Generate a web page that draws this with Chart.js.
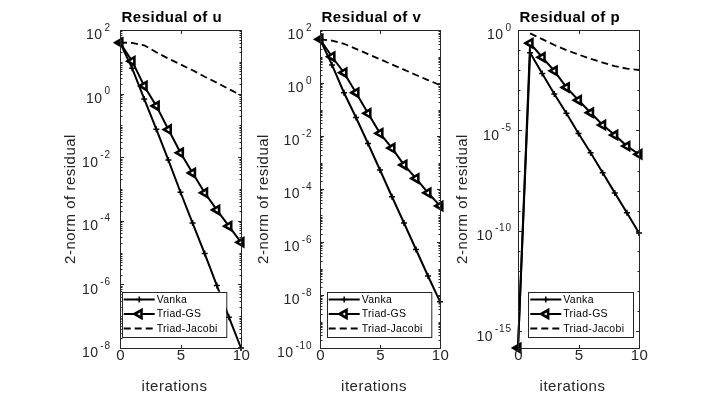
<!DOCTYPE html>
<html>
<head>
<meta charset="utf-8">
<script src="https://cdn.jsdelivr.net/npm/chart.js"></script>
<style>
  body { margin: 0; background: #fff; }
  #wrap { position: relative; width: 708px; height: 393px; }
  #wrap canvas { position: absolute; left: 0; top: 0; }
</style>
</head>
<body>
<div id="wrap">
  <canvas id="chartU" width="708" height="393"></canvas>
  <canvas id="chartV" width="708" height="393"></canvas>
  <canvas id="chartP" width="708" height="393"></canvas>
</div>
<script>
// values
const iterations = [0, 1, 2, 3, 4, 5, 6, 7, 8, 9, 10];

const uVanka = [40, 6.3, 0.68, 0.076, 8.1e-3, 7.9e-4, 8.5e-5, 9.3e-6, 9.3e-7, 9.3e-8, 1.0e-8];
const uTriadGS = [40, 10.5, 1.74, 0.41, 0.074, 0.0138, 3.2e-3, 7.6e-4, 2.2e-4, 6.8e-5, 2.1e-5];
const uTriadJacobi = [40, 39.5, 33, 20, 12.6, 8.3, 5.4, 3.4, 2.2, 1.38, 0.89];

const vVanka = [44.7, 4.8, 0.43, 0.050, 5.2e-3, 5.2e-4, 5.1e-5, 5.2e-6, 5.2e-7, 5.2e-8, 5.6e-9];
const vTriadGS = [44.7, 9.8, 2.45, 0.43, 0.072, 0.0126, 3.5e-3, 8.1e-4, 2.5e-4, 7.2e-5, 2.3e-5];
const vTriadJacobi = [44.7, 39.8, 30.2, 19.5, 12.3, 7.9, 5.0, 3.2, 2.0, 1.29, 0.83];

const pVanka = [1.48e-16, 0.074, 6.9e-3, 6.5e-4, 7.1e-5, 7.1e-6, 7.8e-7, 7.8e-8, 7.8e-9, 7.9e-10, 7.9e-11];
const pTriadGS = [1.48e-16, 0.22, 0.044, 9.3e-3, 1.38e-3, 3.2e-4, 7.6e-5, 1.86e-5, 5.9e-6, 1.66e-6, 6.5e-7];
const pTriadJacobi = [null, 0.68, 0.35, 0.18, 0.1, 0.060, 0.037, 0.024, 0.0158, 0.012, 0.0102];

const seriesNames = ['Vanka', 'Triad-GS', 'Triad-Jacobi'];
const xTicks = [0, 5, 10];
const uTickExp = [2, 0, -2, -4, -6, -8];
const vTickExp = [2, 0, -2, -4, -6, -8, -10];
const pTickExp = [0, -5, -10, -15];
const yLabel = '2-norm of residual';
const xLabel = 'iterations';

const AXIS = '#262626';
const FONT = '"Liberation Sans", Arial, Helvetica, sans-serif';

function marker(ctx, style, x, y, r, rot, bw) {
    if (Chart.helpers && Chart.helpers.drawPoint) {
        Chart.helpers.drawPoint(ctx, { pointStyle: style, radius: r, rotation: rot, borderWidth: bw }, x, y);
    }
}

// draws the matlab-like box, ticks, labels and legend
const matlabAxes = {
    id: 'matlabAxes',
    afterDraw(chart, args, o) {
        const ctx = chart.ctx;
        const a = chart.chartArea;
        const xs = chart.scales.x;
        const ys = chart.scales.y;
        ctx.save();
        ctx.letterSpacing = '0px';
        ctx.strokeStyle = AXIS;
        ctx.fillStyle = AXIS;
        ctx.lineWidth = 1;
        ctx.setLineDash([]);

        const L = Math.round(a.left) + 0.5, R = Math.round(a.right) + 0.5;
        const T = Math.round(a.top) + 0.5, B = Math.round(a.bottom) + 0.5;
        ctx.strokeRect(L, T, R - L, B - T);

        ctx.beginPath();
        xTicks.forEach(v => {
            const px = Math.round(xs.getPixelForValue(v)) + 0.5;
            ctx.moveTo(px, B); ctx.lineTo(px, B - 3.5);
            ctx.moveTo(px, T); ctx.lineTo(px, T + 3.5);
        });
        // minor ticks
        const lo = Math.floor(Math.log10(ys.min)), hi = Math.ceil(Math.log10(ys.max));
        for (let k = lo; k <= hi; k++) {
            const mult = o.minorEachDecade ? [1] : [1, 2, 3, 4, 5, 6, 7, 8, 9];
            mult.forEach(m => {
                const v = m * Math.pow(10, k);
                if (v < ys.min || v > ys.max) return;
                if (m === 1 && o.tickExp.includes(k)) return;
                const py = Math.round(ys.getPixelForValue(v)) + 0.5;
                ctx.moveTo(L, py); ctx.lineTo(L + 2, py);
                ctx.moveTo(R, py); ctx.lineTo(R - 2, py);
            });
        }
        o.tickExp.forEach(e => {
            const py = Math.round(ys.getPixelForValue(Math.pow(10, e))) + 0.5;
            ctx.moveTo(L, py); ctx.lineTo(L + 3.5, py);
            ctx.moveTo(R, py); ctx.lineTo(R - 3.5, py);
        });
        ctx.stroke();

        // y tick labels 10^e
        ctx.fillStyle = AXIS;
        ctx.textAlign = 'right';
        ctx.textBaseline = 'alphabetic';
        o.tickExp.forEach(e => {
            const py = ys.getPixelForValue(Math.pow(10, e));
            const right = a.left - o.tickGap;
            ctx.font = '10px ' + FONT;
            ctx.letterSpacing = '0.8px';
            const es = String(e);
            ctx.fillText(es, right + 0.8, py + 0.5);
            const ew = ctx.measureText(es).width;
            ctx.font = '14px ' + FONT;
            ctx.letterSpacing = '0.5px';
            ctx.fillText('10', right - ew - 1, py + 9.3);
        });

        // x tick labels
        ctx.font = '15px ' + FONT;
        ctx.letterSpacing = '0.3px';
        ctx.textAlign = 'center';
        xTicks.forEach(v => {
            ctx.fillText(String(v), xs.getPixelForValue(v) + 0.5, 359.8);
        });
        ctx.letterSpacing = '0.5px';
        ctx.fillText(xLabel, (a.left + a.right) / 2 - 6, 390.5);

        // y label
        ctx.save();
        ctx.translate(o.yLabelX, 199);
        ctx.rotate(-Math.PI / 2);
        ctx.fillText(yLabel, 0, 0);
        ctx.restore();

        // title
        ctx.fillStyle = '#000';
        ctx.font = 'bold 15px ' + FONT;
        ctx.letterSpacing = '0.5px';
        ctx.textAlign = 'left';
        ctx.fillText(o.title, a.left + 1.5, 21.8);

        // legend
        const lb = o.legend;
        ctx.fillStyle = '#fff';
        ctx.fillRect(lb.x, lb.y, lb.w, lb.h);
        ctx.strokeStyle = AXIS;
        ctx.lineWidth = 1;
        ctx.strokeRect(Math.round(lb.x) + 0.5, Math.round(lb.y) + 0.5, lb.w, lb.h);
        const rows = [7.5, 22, 36.5];
        chart.data.datasets.forEach((ds, i) => {
            const y = Math.round(lb.y) + rows[i];
            const x0 = lb.x + 2, x1 = lb.x + 33;
            ctx.strokeStyle = '#000';
            ctx.lineWidth = ds.borderWidth;
            ctx.setLineDash(ds.borderDash || []);
            ctx.beginPath();
            ctx.moveTo(x0, y); ctx.lineTo(x1, y);
            ctx.stroke();
            ctx.setLineDash([]);
            if (ds.pointRadius > 0) {
                ctx.fillStyle = ds.pointBackgroundColor;
                ctx.lineWidth = ds.pointBorderWidth;
                marker(ctx, ds.pointStyle, (x0 + x1) / 2, y, ds.pointRadius, ds.pointRotation, ds.pointBorderWidth);
            }
            ctx.fillStyle = '#000';
            ctx.font = '10.5px ' + FONT;
            ctx.letterSpacing = '0.3px';
            ctx.textAlign = 'left';
            ctx.textBaseline = 'middle';
            ctx.fillText(ds.label, lb.x + 35, y + 0.5);
        });
        ctx.restore();
    }
};

function makePanel(id, vanka, gs, jacobi, cfg) {
    const pts = arr => iterations.map((x, i) => ({ x: x, y: arr[i] }));
    return new Chart(document.getElementById(id), {
        type: 'line',
        data: {
            datasets: [{
                label: seriesNames[0],
                data: pts(vanka),
                borderColor: '#000',
                borderWidth: 2,
                pointStyle: 'cross',
                pointRadius: 3,
                pointBorderWidth: 1.5,
                pointBorderColor: '#000',
                pointBackgroundColor: '#000',
                pointRotation: 0,
                clip: false
            }, {
                label: seriesNames[1],
                data: pts(gs),
                borderColor: '#000',
                borderWidth: 2,
                pointStyle: 'triangle',
                pointRotation: -90,
                pointRadius: 4.6,
                pointBorderWidth: 2.6,
                pointBorderColor: '#000',
                pointBackgroundColor: '#fff',
                clip: false
            }, {
                label: seriesNames[2],
                data: pts(jacobi),
                borderColor: '#000',
                borderWidth: 1.8,
                borderDash: [7, 4],
                pointRadius: 0,
                clip: false
            }]
        },
        options: {
            responsive: false,
            animation: false,
            layout: {
                padding: { left: cfg.left, right: 708 - cfg.right, top: 30, bottom: 393 - 348 }
            },
            plugins: {
                legend: { display: false },
                tooltip: { enabled: false },
                matlabAxes: cfg
            },
            scales: {
                x: { type: 'linear', min: 0, max: 10, display: false },
                y: { type: 'logarithmic', min: cfg.yMin, max: cfg.yMax, bounds: 'data', display: false }
            }
        },
        plugins: [matlabAxes]
    });
}

makePanel('chartU', uVanka, uTriadGS, uTriadJacobi, {
    title: 'Residual of u', left: 120, right: 241, yMin: 1e-8, yMax: 1e2,
    tickExp: uTickExp, tickGap: 10, yLabelX: 75,
    legend: { x: 121.7, y: 291.7, w: 104.3, h: 45 }
});
makePanel('chartV', vVanka, vTriadGS, vTriadJacobi, {
    title: 'Residual of v', left: 320, right: 440, yMin: 1e-10, yMax: 1e2,
    tickExp: vTickExp, tickGap: 8.5, yLabelX: 268,
    legend: { x: 326.7, y: 291.7, w: 104.3, h: 45 }
});
makePanel('chartP', pVanka, pTriadGS, pTriadJacobi, {
    title: 'Residual of p', left: 518, right: 639, yMin: 1.48e-16, yMax: 1,
    tickExp: pTickExp, tickGap: 7, yLabelX: 467, minorEachDecade: true,
    legend: { x: 528.3, y: 291.7, w: 105, h: 45 }
});
</script>
</body>
</html>
